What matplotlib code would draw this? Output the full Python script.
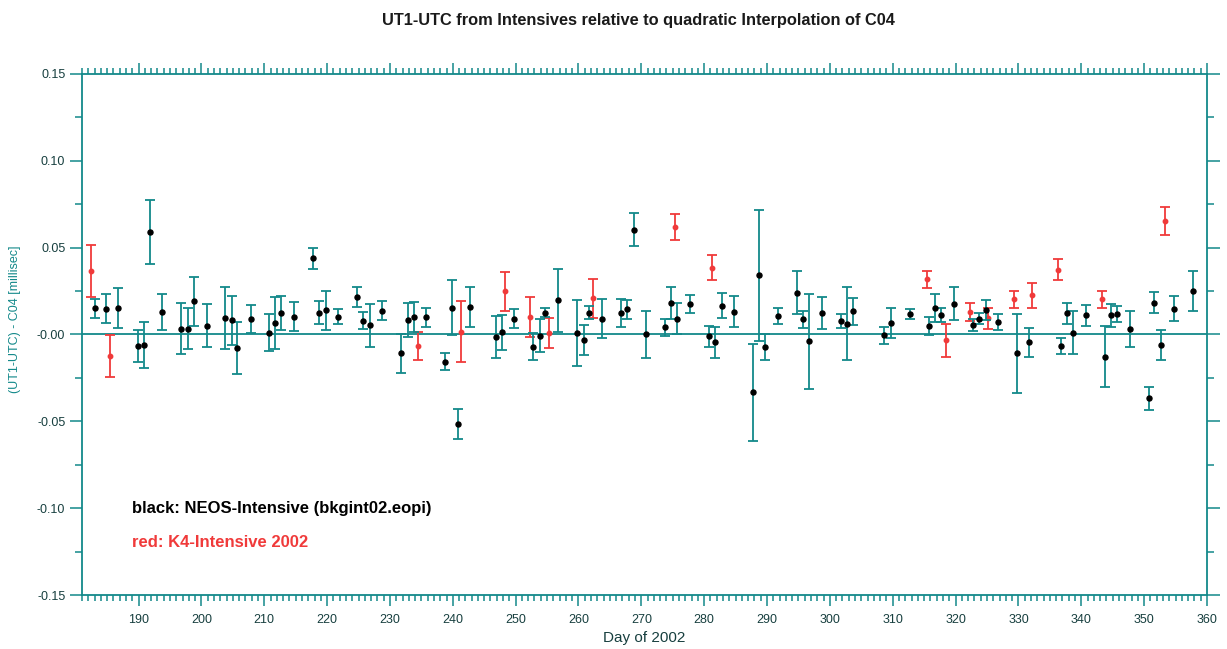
import matplotlib
matplotlib.use("Agg")
import matplotlib.pyplot as plt
from matplotlib.ticker import MultipleLocator, FixedLocator, FixedFormatter

plt.rcParams['font.family'] = ['Liberation Sans', 'DejaVu Sans']

# NEOS-Intensive (black points)
neos_day = [183.0, 184.8, 186.8, 189.9, 190.8, 191.8, 193.8, 196.8, 197.8, 198.9,
            200.9, 203.8, 204.8, 205.7, 207.9, 210.8, 211.7, 212.7, 214.8, 217.8,
            218.7, 219.8, 221.8, 224.8, 225.7, 226.8, 228.8, 231.8, 232.8, 233.8,
            235.8, 238.8, 239.8, 240.8, 242.8, 246.8, 247.8, 249.8, 252.7, 253.8,
            254.7, 256.8, 259.7, 260.8, 261.75, 263.8, 266.7, 267.7, 268.8, 270.8,
            273.8, 274.7, 275.7, 277.8, 280.8, 281.7, 282.8, 284.8, 287.7, 288.8,
            289.7, 291.8, 294.7, 295.7, 296.7, 298.7, 301.7, 302.8, 303.7, 308.65,
            309.7, 312.7, 315.75, 316.8, 317.7, 319.7, 322.8, 323.75, 324.8, 326.8,
            329.7, 331.7, 336.7, 337.7, 338.7, 340.8, 343.7, 344.7, 345.7, 347.7,
            350.8, 351.6, 352.75, 354.7, 357.7]
neos_val = [0.0151, 0.0148, 0.0153, -0.0067, -0.0061, 0.0590, 0.0130, 0.0033, 0.0034, 0.0190,
            0.0050, 0.0096, 0.0082, -0.0080, 0.0090, 0.0011, 0.0067, 0.0125, 0.0102, 0.0439,
            0.0125, 0.0140, 0.0103, 0.0215, 0.0079, 0.0052, 0.0136, -0.0109, 0.0082, 0.0101,
            0.0098, -0.0157, 0.0155, -0.0515, 0.0159, -0.0013, 0.0013, 0.0092, -0.0071, -0.0006,
            0.0126, 0.0197, 0.0010, -0.0033, 0.0126, 0.0090, 0.0126, 0.0144, 0.0603, 0.0000,
            0.0042, 0.0184, 0.0090, 0.0178, -0.0010, -0.0044, 0.0165, 0.0130, -0.0333, 0.0341,
            -0.0071, 0.0105, 0.0241, 0.0088, -0.0040, 0.0125, 0.0079, 0.0063, 0.0134, -0.0004,
            0.0067, 0.0117, 0.0050, 0.0155, 0.0113, 0.0178, 0.0057, 0.0092, 0.0140, 0.0073,
            -0.0109, -0.0046, -0.0065, 0.0121, 0.0011, 0.0111, -0.0128, 0.0111, 0.0117, 0.0031,
            -0.0368, 0.0184, -0.0061, 0.0149, 0.0249]
neos_err = [0.0056, 0.0083, 0.0113, 0.0093, 0.0132, 0.0186, 0.0102, 0.0148, 0.0120, 0.0140,
            0.0124, 0.0180, 0.0140, 0.0150, 0.0081, 0.0108, 0.0148, 0.0097, 0.0084, 0.0060,
            0.0066, 0.0113, 0.0041, 0.0056, 0.0050, 0.0123, 0.0055, 0.0112, 0.0099, 0.0087,
            0.0057, 0.0050, 0.0156, 0.0085, 0.0117, 0.0120, 0.0102, 0.0052, 0.0077, 0.0093,
            0.0024, 0.0180, 0.0190, 0.0085, 0.0038, 0.0113, 0.0080, 0.0056, 0.0095, 0.0133,
            0.0048, 0.0092, 0.0090, 0.0052, 0.0060, 0.0090, 0.0072, 0.0089, 0.0280, 0.0377,
            0.0075, 0.0046, 0.0122, 0.0050, 0.0276, 0.0091, 0.0041, 0.0210, 0.0078, 0.0048,
            0.0087, 0.0029, 0.0052, 0.0081, 0.0040, 0.0095, 0.0035, 0.0030, 0.0057, 0.0046,
            0.0228, 0.0082, 0.0046, 0.0059, 0.0122, 0.0061, 0.0176, 0.0067, 0.0045, 0.0102,
            0.0065, 0.0062, 0.0086, 0.0072, 0.0115]

# K4-Intensive 2002 (red points)
k4_day = [182.4, 185.4, 234.5, 241.3, 248.3, 252.3, 255.3, 262.3, 275.4, 281.3,
          315.4, 318.4, 322.3, 325.2, 329.3, 332.2, 336.3, 343.3, 353.3]
k4_val = [0.0366, -0.0123, -0.0067, 0.0015, 0.0249, 0.0102, 0.0010, 0.0209, 0.0619, 0.0383,
          0.0318, -0.0033, 0.0130, 0.0094, 0.0203, 0.0226, 0.0374, 0.0203, 0.0653]
k4_err = [0.0150, 0.0120, 0.0080, 0.0175, 0.0113, 0.0115, 0.0085, 0.0113, 0.0073, 0.0072,
          0.0050, 0.0096, 0.0053, 0.0060, 0.0048, 0.0072, 0.0062, 0.0048, 0.0080]

x_ticks = [190, 200, 210, 220, 230, 240, 250, 260, 270, 280, 290, 300, 310, 320, 330, 340, 350, 360]
y_ticks = [-0.15, -0.10, -0.05, 0.0, 0.05, 0.10, 0.15]
y_tick_labels = ["-0.15", "-0.10", "-0.05", "-0.00", "0.05", "0.10", "0.15"]

teal = "#13898a"
red = "#f03a3a"
label_col = "#173f3f"

fig = plt.figure(figsize=(12.27, 6.49), dpi=100)
ax = fig.add_axes([0.0668, 0.0832, 0.9169, 0.8028])

ax.axhline(0, color=teal, lw=1.3, zorder=1)

ax.errorbar(k4_day, k4_val, yerr=k4_err, fmt="o", color=red, ecolor=red,
            elinewidth=1.3, capsize=3.8, capthick=1.3, markersize=3.2, zorder=2)
ax.errorbar(neos_day, neos_val, yerr=neos_err, fmt="o", color="black", ecolor=teal,
            elinewidth=1.3, capsize=3.8, capthick=1.3, markersize=3.6, zorder=3)

ax.set_xlim(181, 360)
ax.set_ylim(-0.15, 0.15)

ax.xaxis.set_major_locator(FixedLocator(x_ticks))
ax.xaxis.set_minor_locator(MultipleLocator(1))
ax.yaxis.set_major_locator(FixedLocator(y_ticks))
ax.yaxis.set_major_formatter(FixedFormatter(y_tick_labels))
ax.yaxis.set_minor_locator(MultipleLocator(0.025))

ax.tick_params(axis="both", which="both", direction="out", color=teal, width=1.1,
               top=True, right=True, labelcolor=label_col, labelsize=9)
ax.tick_params(axis="x", which="major", length=8, pad=6)
ax.tick_params(axis="x", which="minor", length=4)
ax.tick_params(axis="y", which="major", length=9, pad=3)
ax.tick_params(axis="y", which="minor", length=5)
for s in ax.spines.values():
    s.set_color(teal)
    s.set_linewidth(1.3)

ax.set_xlabel("Day of 2002", fontsize=11, color=label_col, labelpad=3)
ax.set_ylabel("(UT1-UTC) - C04 [millisec]", fontsize=9, color=teal, labelpad=7)
ax.yaxis.set_label_coords(-0.054, 0.53)

fig.text(0.52, 0.968, "UT1-UTC from Intensives relative to quadratic Interpolation of C04",
         ha="center", va="center", fontsize=11.8, fontweight="bold", color="#1a1a1a")

ax.text(189.0, -0.100, "black: NEOS-Intensive (bkgint02.eopi)", fontsize=12,
        fontweight="bold", color="black", va="center", ha="left")
ax.text(189.0, -0.120, "red: K4-Intensive 2002", fontsize=12,
        fontweight="bold", color=red, va="center", ha="left")

fig.savefig("out.png", dpi=100)
